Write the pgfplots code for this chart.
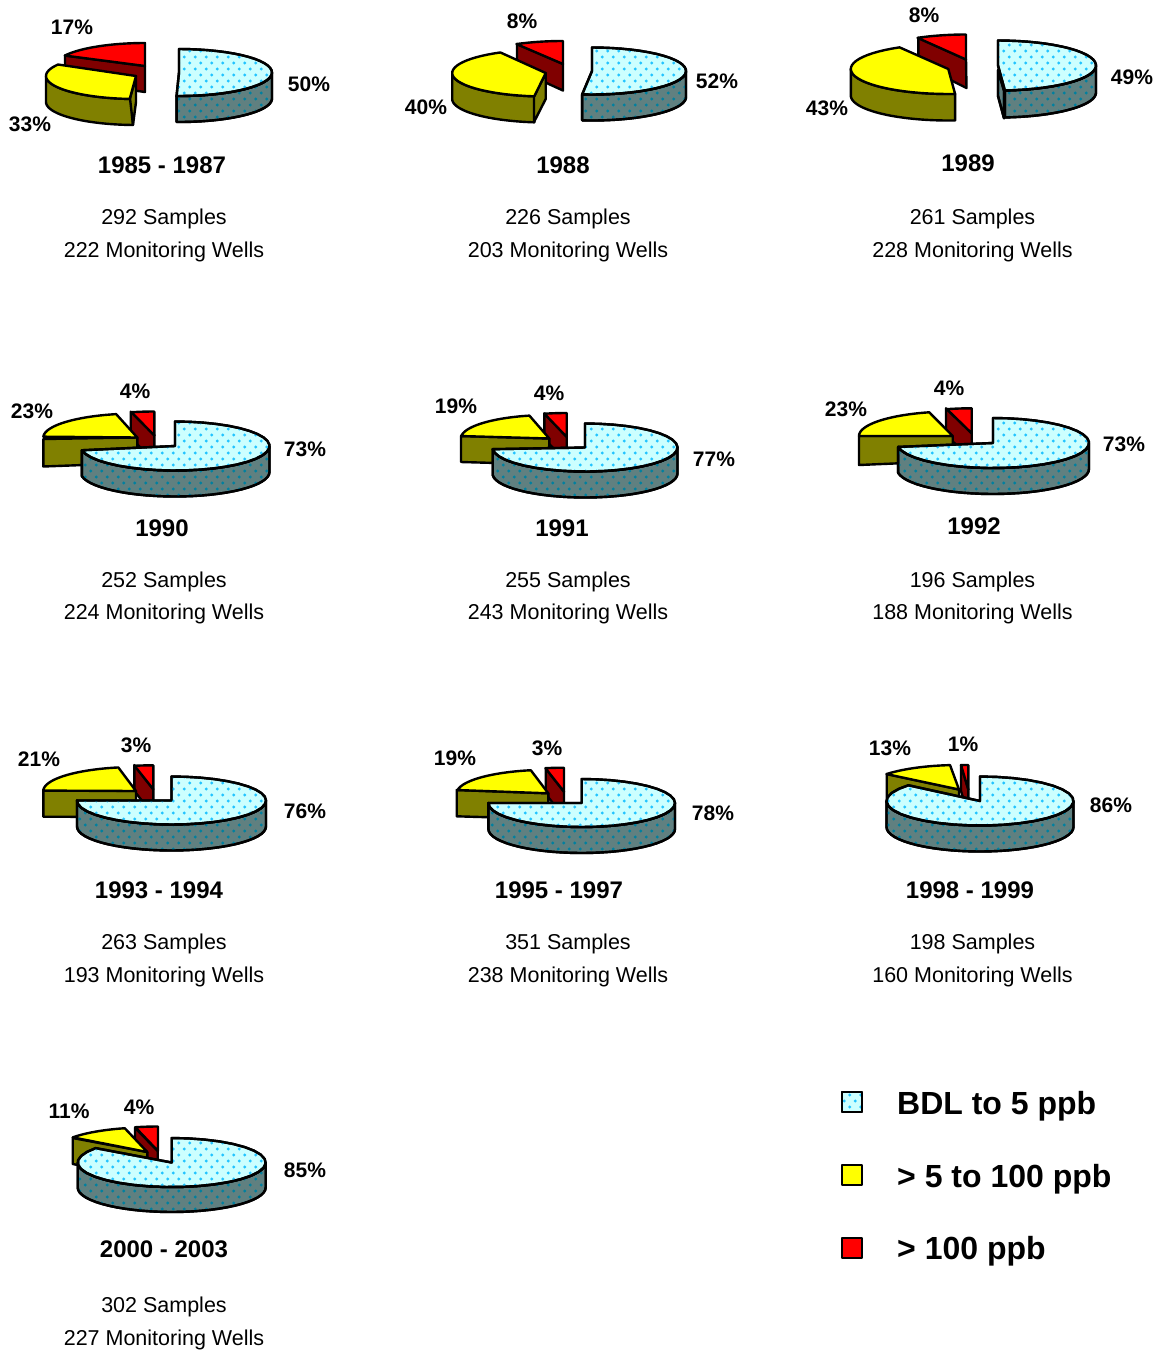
\documentclass[border=0pt]{standalone}
\usepackage{fontspec}
\setmainfont{Liberation Sans}
\usepackage{pgfplots}
\pgfplotsset{compat=1.18}
\usetikzlibrary{patterns}
\definecolor{btop}{HTML}{CCFFFF}
\definecolor{bdot}{HTML}{22C4FF}
\definecolor{bside}{HTML}{608080}
\definecolor{bsdot}{HTML}{0080A0}
\definecolor{ytop}{HTML}{FFFF00}
\definecolor{yside}{HTML}{808000}
\definecolor{rtop}{HTML}{FF0000}
\definecolor{rside}{HTML}{800000}
\pgfdeclarepatternformonly{bdots}{\pgfqpoint{-2pt}{-2pt}}{\pgfqpoint{13pt}{14pt}}{\pgfqpoint{11pt}{12pt}}{%
  \pgfpathcircle{\pgfqpoint{2.75pt}{3pt}}{1.6pt}%
  \pgfpathcircle{\pgfqpoint{8.25pt}{9pt}}{1.6pt}%
  \pgfusepath{fill}}
\pgfplotsset{
  edge/.style={draw=black,line width=2.4pt,line join=round,forget plot},
  bt/.style={edge,preaction={fill=btop},pattern=bdots,pattern color=bdot},
  bs/.style={edge,preaction={fill=bside},pattern=bdots,pattern color=bsdot},
  yt/.style={edge,fill=ytop},
  ys/.style={edge,fill=yside},
  rt/.style={edge,fill=rtop},
  rs/.style={edge,fill=rside},
}
% Outline builder: straight corners (\Pt) and elliptic
% rims (\Rim: centre, radii, start and end angle).
\newcommand\Pt[2]{\xdef\ptlist{\ptlist (#1,#2)}}
\newcommand\Rim[6]{%
  \foreach \i in {0,...,30}{%
    \pgfmathsetmacro\xx{#1+#3*cos(#5+(#6-#5)*\i/30)}%
    \pgfmathsetmacro\yy{#2+#4*sin(#5+(#6-#5)*\i/30)}%
    \xdef\ptlist{\ptlist (\xx,\yy)}}}
\newcommand\Shape[2]{%
  \gdef\ptlist{}#2%
  \edef\temp{\noexpand\addplot[\unexpanded{#1}] coordinates {\ptlist} -- cycle;}\temp}
% Wall: polygon of four corners
\newcommand\Wall[9]{\Shape{#1}{\Pt{#2}{#3}\Pt{#4}{#5}\Pt{#6}{#7}\Pt{#8}{#9}}}
\newcommand\Side[7]{% style cx cy rx ry depth, from:to
  \Shape{#1}{\SideArgs{#2}{#3}{#4}{#5}{#6}#7\relax}}
\def\SideArgs#1#2#3#4#5#6:#7\relax{%
  \pgfmathsetmacro\yb{#2+#5}%
  \Rim{#1}{#2}{#3}{#4}{#6}{#7}\Rim{#1}{\yb}{#3}{#4}{#7}{#6}}
\newcommand\Top[7]{% style cx cy rx ry from to : sector with apex at the centre
  \Shape{#1}{\Rim{#2}{#3}{#4}{#5}{#6}{#7}\Pt{#2}{#3}}}
% Texts: x, y of digit centre
\newcommand\Pct[3]{\node[anchor=base,inner sep=0pt,font=\fontsize{21}{25}\selectfont\bfseries] at (axis cs:#1,#2+7.5) {#3};}
\newcommand\Yr[3]{\node[anchor=base,inner sep=0pt,font=\fontsize{24}{28}\selectfont\bfseries] at (axis cs:#1,#2+8.5) {#3};}
\newcommand\Inf[3]{\node[anchor=base,inner sep=0pt,font=\fontsize{21.5}{25}\selectfont] at (axis cs:#1,#2+7.7) {#3};}
\newcommand\Leg[3]{\node[anchor=base west,inner sep=0pt,font=\fontsize{32}{38}\selectfont\bfseries] at (axis cs:#1,#2) {#3};}
\newcommand\Swatch[2]{\pgfmathsetmacro\ya{#2-10}\pgfmathsetmacro\yb{#2+10}%
  \Shape{#1}{\Pt{842}{\ya}\Pt{862}{\ya}\Pt{862}{\yb}\Pt{842}{\yb}}}
\begin{document}
\begin{tikzpicture}
\useasboundingbox (0,0) rectangle (1161pt,1350pt);
\begin{axis}[at={(0,0)},anchor=south west,scale only axis,width=1161pt,height=1350pt,
  xmin=0,xmax=1161,ymin=0,ymax=1350,y dir=reverse,axis lines=none,clip=false]
% --- 1985 - 1987
\Wall{rs}{65}{55.5}{145}{66}{145}{92}{65}{81}
\Top{rt}{145}{66}{90}{23}{207}{270}
\Side{ys}{136}{76}{90}{23}{26}{180:92}
\Wall{ys}{130}{98.3}{136}{76.7}{136}{102}{133}{124.8}
\Top{yt}{136}{76}{90}{23}{210}{94}
\Side{bs}{179}{72.5}{93}{23.5}{26}{0:91.5}
\Top{bt}{179}{72.5}{93}{23.5}{-90}{91.5}
% --- 1988
\Wall{rs}{517}{44}{563}{64}{563}{90.5}{517}{69.5}
\Top{rt}{563}{64}{93}{23}{240}{270}
\Side{ys}{545.7}{73}{93.5}{23.5}{26}{180:97}
\Wall{ys}{534}{96.3}{545.7}{73.3}{545.7}{99}{534}{122}
\Top{yt}{545.7}{73}{93.5}{23.5}{241}{97}
\Side{bs}{592}{71}{94}{23.5}{26}{0:96}
\Top{bt}{592}{71}{94}{23.5}{-90}{96}
% --- 1989
\Wall{rs}{918.3}{37.8}{966}{59.5}{966.5}{88}{918.3}{64}
\Top{rt}{966}{59.5}{97}{25}{240}{270}
\Side{ys}{948.3}{69}{97.5}{25}{26.5}{180:86}
\Top{yt}{948.3}{69}{97.5}{25}{240}{86}
\Wall{bs}{998}{70}{1004}{90.7}{1004}{118.3}{998}{96}
\Side{bs}{998}{65.5}{98}{25}{27}{0:86}
\Top{bt}{998}{65.5}{98}{25}{-90}{86}
% --- 1990
\Wall{rs}{130.7}{411.7}{154.3}{435}{154.3}{461}{130.7}{438}
\Top{rt}{154.3}{435.5}{94}{24}{256}{270}
\Wall{ys}{43.3}{439}{137.3}{437.5}{137.3}{463}{43.3}{466.5}
\Top{yt}{137.3}{437.5}{94}{24}{257}{182}
\Side{bs}{175}{446}{94.5}{24.5}{26}{0:170}
\Top{bt}{175}{446}{94.5}{24.5}{-90}{170}
% --- 1991
\Wall{rs}{544.3}{413.3}{566.7}{436.7}{566.7}{462}{544.3}{439}
\Top{rt}{566.7}{437}{92}{24}{256}{270}
\Wall{ys}{461}{436}{549.3}{438.5}{549.3}{464.5}{461}{462}
\Top{yt}{549.3}{438.5}{88.5}{23.5}{257}{186}
\Side{bs}{585}{447.5}{92.5}{24}{26}{0:176}
\Top{bt}{585}{447.5}{92.5}{24}{-90}{176}
% --- 1992
\Wall{rs}{946}{408.3}{971.7}{433.3}{971.7}{459.7}{946}{435}
\Top{rt}{971.7}{433.3}{96}{25}{255}{270}
\Wall{ys}{859}{436}{952.7}{436}{952.7}{461}{859}{465}
\Top{yt}{952.7}{436}{93.7}{24.5}{255.5}{180}
\Side{bs}{993}{443}{96}{25}{26}{0:171}
\Top{bt}{993}{443}{96}{25}{-90}{171}
% --- 1993 - 1994
\Wall{rs}{134.3}{765}{153.3}{789.3}{153.3}{815}{134.3}{791}
\Top{rt}{153.3}{789.3}{94}{24}{258.5}{270}
\Wall{ys}{43.3}{790}{136}{791}{136}{817}{43.3}{816.7}
\Top{yt}{136}{791}{92.7}{24}{259}{181}
\Side{bs}{171.5}{800.5}{94.5}{24}{26}{0:180}
\Top{bt}{171.5}{800.5}{94.5}{24}{-90}{180}
% --- 1995 - 1997
\Wall{rs}{545.7}{768.3}{564}{791.7}{564}{817}{545.7}{794}
\Top{rt}{564}{791.7}{93}{24}{258.5}{270}
\Wall{ys}{456.7}{790}{548.3}{793.3}{548.3}{819}{456.7}{816.3}
\Top{yt}{548.3}{793.3}{91.6}{23.5}{259}{188}
\Side{bs}{581.7}{803}{93.3}{24}{26}{0:180}
\Top{bt}{581.7}{803}{93.3}{24}{-90}{180}
% --- 1998 - 1999
\Wall{rs}{961}{765}{968.3}{789.3}{968.3}{815}{961}{791}
\Top{rt}{968.3}{789.5}{93}{24.5}{265.5}{270}
\Wall{ys}{886.7}{774}{959}{789.5}{959}{815}{886.7}{800}
\Top{yt}{959}{789.5}{93.3}{24.5}{264.5}{219}
\Side{bs}{980}{801}{93.5}{24.5}{26}{0:180}
\Top{bt}{980}{801}{93.5}{24.5}{-90}{220}
% --- 2000 - 2003
\Wall{rs}{135}{1127.7}{157.7}{1151}{158}{1178}{135}{1153}
\Top{rt}{158}{1151}{94}{24.5}{256}{270}
\Wall{ys}{72.7}{1138}{147.3}{1152}{147.3}{1178}{72.7}{1164}
\Top{yt}{147.3}{1152}{93}{24.5}{256}{216.7}
\Side{bs}{171.7}{1162.5}{94}{24.5}{25}{0:180}
\Top{bt}{171.7}{1162.5}{94}{24.5}{-90}{216}
% --- percentages
\Pct{72}{27}{17\%}\Pct{30}{124}{33\%}\Pct{309}{84}{50\%}
\Pct{522}{21}{8\%}\Pct{426}{107}{40\%}\Pct{717}{81}{52\%}
\Pct{924}{15}{8\%}\Pct{827}{108}{43\%}\Pct{1132}{77}{49\%}
\Pct{135}{391}{4\%}\Pct{32}{411}{23\%}\Pct{305}{449}{73\%}
\Pct{549}{393}{4\%}\Pct{456}{406}{19\%}\Pct{714}{459}{77\%}
\Pct{949}{388}{4\%}\Pct{846}{409}{23\%}\Pct{1124}{444}{73\%}
\Pct{136}{745}{3\%}\Pct{39}{759}{21\%}\Pct{305}{811}{76\%}
\Pct{547}{748}{3\%}\Pct{455}{758}{19\%}\Pct{713}{813}{78\%}
\Pct{963}{744}{1\%}\Pct{890}{748}{13\%}\Pct{1111}{805}{86\%}
\Pct{139}{1107}{4\%}\Pct{69}{1111}{11\%}\Pct{305}{1170}{85\%}
% --- titles
\Yr{162}{165}{1985 - 1987}\Yr{563}{165}{1988}\Yr{968}{163}{1989}
\Yr{162}{528}{1990}\Yr{562}{528}{1991}\Yr{974}{526}{1992}
\Yr{159}{890}{1993 - 1994}\Yr{559}{890}{1995 - 1997}\Yr{970}{890}{1998 - 1999}
\Yr{164}{1249}{2000 - 2003}
% --- counts
\Inf{164}{217}{292 Samples}\Inf{164}{250}{222 Monitoring Wells}
\Inf{568}{217}{226 Samples}\Inf{568}{250}{203 Monitoring Wells}
\Inf{972.5}{217}{261 Samples}\Inf{972.5}{250}{228 Monitoring Wells}
\Inf{164}{580}{252 Samples}\Inf{164}{612}{224 Monitoring Wells}
\Inf{568}{580}{255 Samples}\Inf{568}{612}{243 Monitoring Wells}
\Inf{972.5}{580}{196 Samples}\Inf{972.5}{612}{188 Monitoring Wells}
\Inf{164}{942}{263 Samples}\Inf{164}{975}{193 Monitoring Wells}
\Inf{568}{942}{351 Samples}\Inf{568}{975}{238 Monitoring Wells}
\Inf{972.5}{942}{198 Samples}\Inf{972.5}{975}{160 Monitoring Wells}
\Inf{164}{1305}{302 Samples}\Inf{164}{1338}{227 Monitoring Wells}
% --- legend
\Swatch{bt}{1102}\Swatch{yt}{1175}\Swatch{rt}{1248}
\Leg{897}{1114}{BDL to 5 ppb}
\Leg{897}{1187}{> 5 to 100 ppb}
\Leg{897}{1259.5}{> 100 ppb}
\end{axis}
\end{tikzpicture}
\end{document}
